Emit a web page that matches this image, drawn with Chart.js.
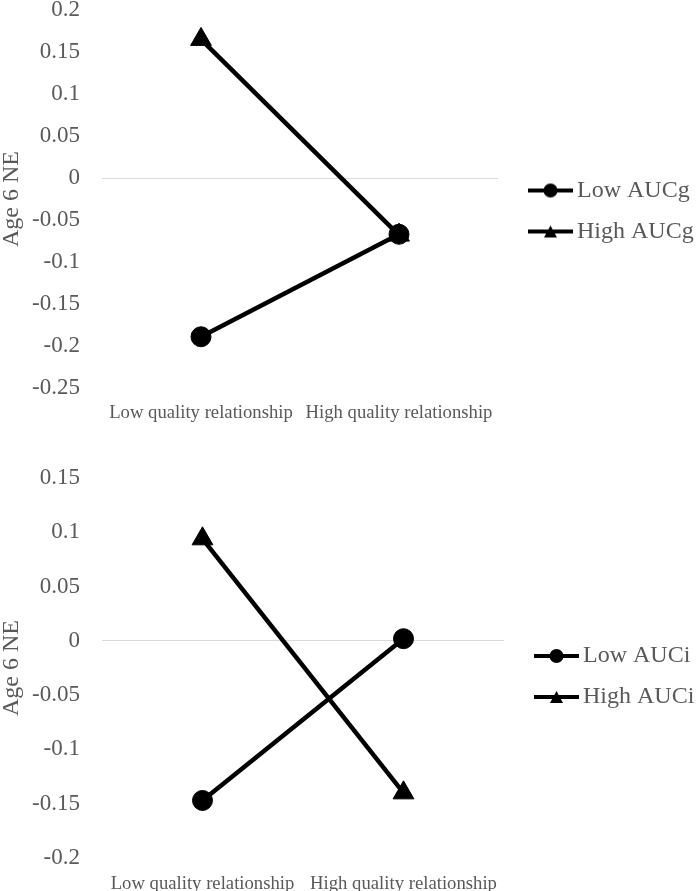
<!DOCTYPE html>
<html>
<head>
<meta charset="utf-8">
<script src="https://cdn.jsdelivr.net/npm/chart.js@4.4.1/dist/chart.umd.min.js"></script>
<style>
  html, body { margin: 0; padding: 0; background: #fff; }
  body { width: 696px; height: 891px; position: relative; overflow: hidden; }
  .box { position: absolute; left: 0; width: 696px; }
  #topBox { top: -4px; height: 430px; }
  #bottomBox { top: 464px; height: 427px; }
</style>
</head>
<body>
<div class="box" id="topBox"><canvas id="chartTop"></canvas></div>
<div class="box" id="bottomBox"><canvas id="chartBottom"></canvas></div>
<script>
const categories = ['Low quality relationship', 'High quality relationship'];

// top panel (AUCg)
const lowAUCg = [-0.189, -0.067];
const highAUCg = [0.165, -0.068];
const topTicks = { min: -0.25, max: 0.2, step: 0.05 };

// bottom panel (AUCi)
const lowAUCi = [-0.147, 0.002];
const highAUCi = [0.094, -0.14];
const bottomTicks = { min: -0.2, max: 0.15, step: 0.05 };

const yTitle = 'Age 6 NE';
const grey = '#595959';
const serif = "'Liberation Serif', 'Times New Roman', serif";

// excel style legend icon: a short line with the marker on it
function legendIcon(shape) {
  const c = document.createElement('canvas');
  c.width = 66;
  c.height = 24;
  const g = c.getContext('2d');
  g.fillStyle = '#000';
  g.strokeStyle = '#000';
  g.lineWidth = 4;
  g.beginPath();
  g.moveTo(21, 12);
  g.lineTo(66, 12);
  g.stroke();
  g.beginPath();
  if (shape === 'circle') {
    g.arc(43.5, 12, 7, 0, Math.PI * 2);
  } else {
    g.moveTo(43.5, 6);
    g.lineTo(50, 18);
    g.lineTo(37, 18);
    g.closePath();
  }
  g.fill();
  return c;
}
const icons = [legendIcon('circle'), legendIcon('triangle')];

function makeChart(canvasId, labels, lowData, highData, ticks, opts) {
  const ctx = document.getElementById(canvasId).getContext('2d');
  return new Chart(ctx, {
    type: 'line',
    data: {
      labels: categories,
      datasets: [
        {
          label: labels[0],
          data: lowData,
          borderColor: '#000',
          backgroundColor: '#000',
          borderWidth: 4.5,
          pointStyle: 'circle',
          pointRadius: 10,
          pointBorderWidth: 1,
          pointBackgroundColor: '#000',
          pointBorderColor: '#000',
        },
        {
          label: labels[1],
          data: highData,
          borderColor: '#000',
          backgroundColor: '#000',
          borderWidth: 4.5,
          pointStyle: 'triangle',
          pointRadius: 12,
          pointBorderWidth: 1,
          pointBackgroundColor: '#000',
          pointBorderColor: '#000',
        },
      ],
    },
    options: {
      responsive: true,
      maintainAspectRatio: false,
      animation: false,
      events: [],
      layout: { padding: { top: 14, right: 0, left: 0, bottom: 0 } },
      plugins: {
        tooltip: { enabled: false },
        legend: {
          position: 'right',
          fullSize: false,
          // fixed width so the plot area ends where excel put it
          maxWidth: opts.legendWidth,
          // invisible title just pushes the entries down a bit, like excel does
          title: { display: true, text: '', font: { size: 1, lineHeight: 1 }, padding: { top: opts.legendShift, bottom: 0 } },
          labels: {
            usePointStyle: true,
            pointStyleWidth: 50,
            padding: 17,
            color: grey,
            font: { family: serif, size: 24, lineHeight: 1 },
            generateLabels(chart) {
              const items = Chart.defaults.plugins.legend.labels.generateLabels(chart);
              items.forEach((item, i) => { item.pointStyle = icons[i]; });
              return items;
            },
          },
        },
      },
      scales: {
        x: {
          offset: true,
          grid: { display: false },
          border: { display: false },
          ticks: {
            color: grey,
            font: { family: serif, size: 18.7 },
            padding: opts.xPad,
            maxRotation: 0,
            autoSkip: false,
          },
          afterFit(scale) { scale.height = opts.xHeight; },
        },
        y: {
          min: ticks.min,
          max: ticks.max,
          border: { display: false },
          grid: {
            drawTicks: false,
            // only the zero line is shown
            color: (c) => Math.abs(c.tick.value) < 1e-9 ? '#d9d9d9' : 'transparent',
            lineWidth: 1,
          },
          ticks: {
            stepSize: ticks.step,
            color: grey,
            font: { family: serif, size: 23 },
            padding: 22,
            callback: (v) => String(Number(v.toFixed(2))),
          },
          title: {
            display: true,
            text: yTitle,
            color: grey,
            font: { family: serif, size: 24, lineHeight: 1 },
            padding: 0,
          },
          afterFit(scale) {
            scale.width = 102;
            // tick padding would otherwise push the plot area down
            scale.paddingTop = 0;
            scale.paddingBottom = 0;
          },
        },
      },
    },
  });
}

makeChart('chartTop', ['Low AUCg', 'High AUCg'], lowAUCg, highAUCg, topTicks,
  { legendWidth: 198, legendShift: 23, xHeight: 38, xPad: 6 });
makeChart('chartBottom', ['Low AUCi', 'High AUCi'], lowAUCi, highAUCi, bottomTicks,
  { legendWidth: 192, legendShift: 16, xHeight: 33, xPad: 7 });
</script>
</body>
</html>
